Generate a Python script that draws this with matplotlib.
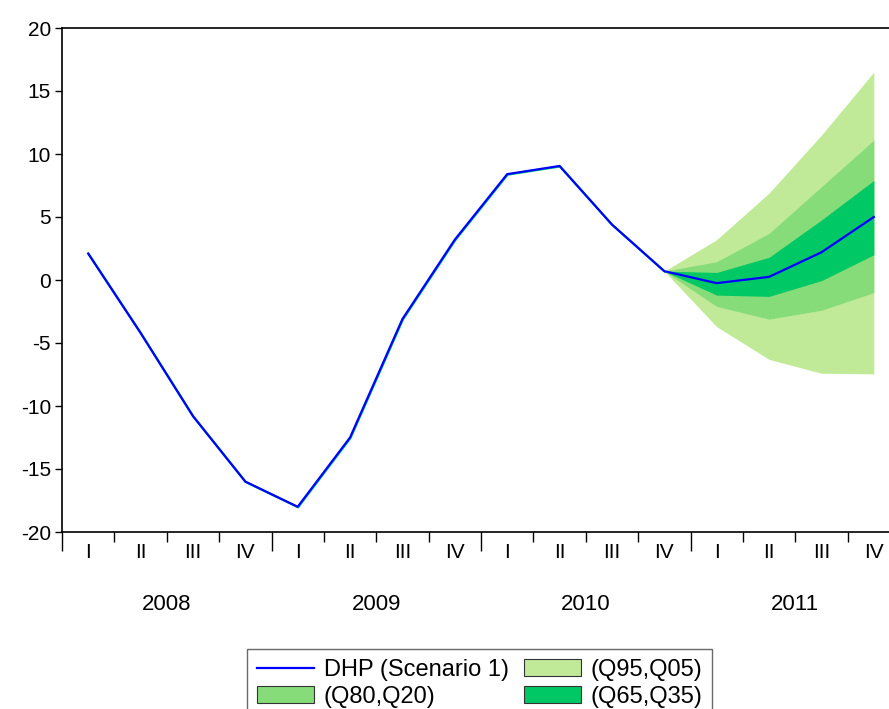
import numpy as np
import matplotlib.pyplot as plt
from matplotlib.patches import Patch
from matplotlib.lines import Line2D
from matplotlib.transforms import blended_transform_factory, ScaledTranslation

plt.rcParams['font.family'] = ['Liberation Sans', 'DejaVu Sans']
plt.rcParams['axes.unicode_minus'] = False

years = ['2008', '2009', '2010', '2011']
quarters = ['I', 'II', 'III', 'IV']

dhp = [2.1, -4.2, -10.8, -16.0, -18.0, -12.5, -3.1, 3.2,
       8.4, 9.05, 4.4, 0.7, -0.25, 0.25, 2.2, 5.0]

# fan: starts at 2010Q4, then 2011 Q1..Q4
fan_start = 11
q95 = [0.7, 3.2, 6.9, 11.5, 16.5]
q80 = [0.7, 1.45, 3.7, 7.4, 11.1]
q65 = [0.7, 0.6, 1.8, 4.76, 7.9]
q35 = [0.7, -1.2, -1.3, -0.05, 2.0]
q20 = [0.7, -2.1, -3.1, -2.4, -1.0]
q05 = [0.7, -3.7, -6.3, -7.4, -7.45]

c95 = '#C0EA98'
c80 = '#86DC78'
c65 = '#00C864'

W, H = 889, 709
fig = plt.figure(figsize=(W / 100, H / 100), dpi=100)
ax = fig.add_axes([62 / W, 1 - 532 / H, (900 - 62) / W, (532 - 28) / H])

x = np.arange(len(dhp))
xf = np.arange(fan_start, fan_start + len(q95))
ax.fill_between(xf, q05, q95, color=c95, lw=0)
ax.fill_between(xf, q20, q80, color=c80, lw=0)
ax.fill_between(xf, q35, q65, color=c65, lw=0)
# faint green edge peeking out under the blue line
shift = ScaledTranslation(0.5 / 100, -0.5 / 100, fig.dpi_scale_trans)
ax.plot(x[:fan_start + 1], dhp[:fan_start + 1], color=c65, lw=1.6,
        transform=ax.transData + shift)
ax.plot(x, dhp, color='#0000FF', lw=1.6)

ax.set_xlim(-0.5, 15.5)
ax.set_ylim(-20, 20)
ax.set_yticks(np.arange(-20, 21, 5))
ax.tick_params(axis='y', direction='out', length=5, width=1, labelsize=15, pad=3)

ax.set_xticks(np.arange(-0.5, 16, 4))
ax.set_xticks(np.arange(-0.5, 16, 1), minor=True)
ax.tick_params(axis='x', which='major', direction='out', length=14, width=1, labelbottom=False)
ax.tick_params(axis='x', which='minor', direction='out', length=7, width=1, labelbottom=False)

ax.spines['right'].set_visible(False)
for s in ['left', 'top', 'bottom']:
    ax.spines[s].set_linewidth(1.2)

tr = blended_transform_factory(ax.transData, ax.transAxes)
for i in range(len(dhp)):
    ax.text(i, -20 / (532 - 28), quarters[i % 4], transform=tr,
            ha='center', va='center', fontsize=15)
for j, yr in enumerate(years):
    ax.text(j * 4 + 1.5, -72 / (532 - 28), yr, transform=tr,
            ha='center', va='center', fontsize=16)

handles = [Line2D([], [], color='#0000FF', lw=1.6),
           Patch(facecolor=c80, edgecolor='#333333', lw=0.8),
           Patch(facecolor=c95, edgecolor='#333333', lw=0.8),
           Patch(facecolor=c65, edgecolor='#333333', lw=0.8)]
labels = ['DHP (Scenario 1)', '(Q80,Q20)', '(Q95,Q05)', '(Q65,Q35)']
leg = fig.legend(handles, labels, ncol=2, loc='upper left',
                 bbox_to_anchor=(247 / W, 1 - 649 / H), fontsize=17,
                 frameon=True, fancybox=False, edgecolor='#444444',
                 handlelength=2.4, handleheight=0.72, columnspacing=0.65,
                 handletextpad=0.42, labelspacing=0.22, borderpad=0.42,
                 borderaxespad=0)
leg.get_frame().set_linewidth(1.0)

fig.savefig('out.png', dpi=100)
